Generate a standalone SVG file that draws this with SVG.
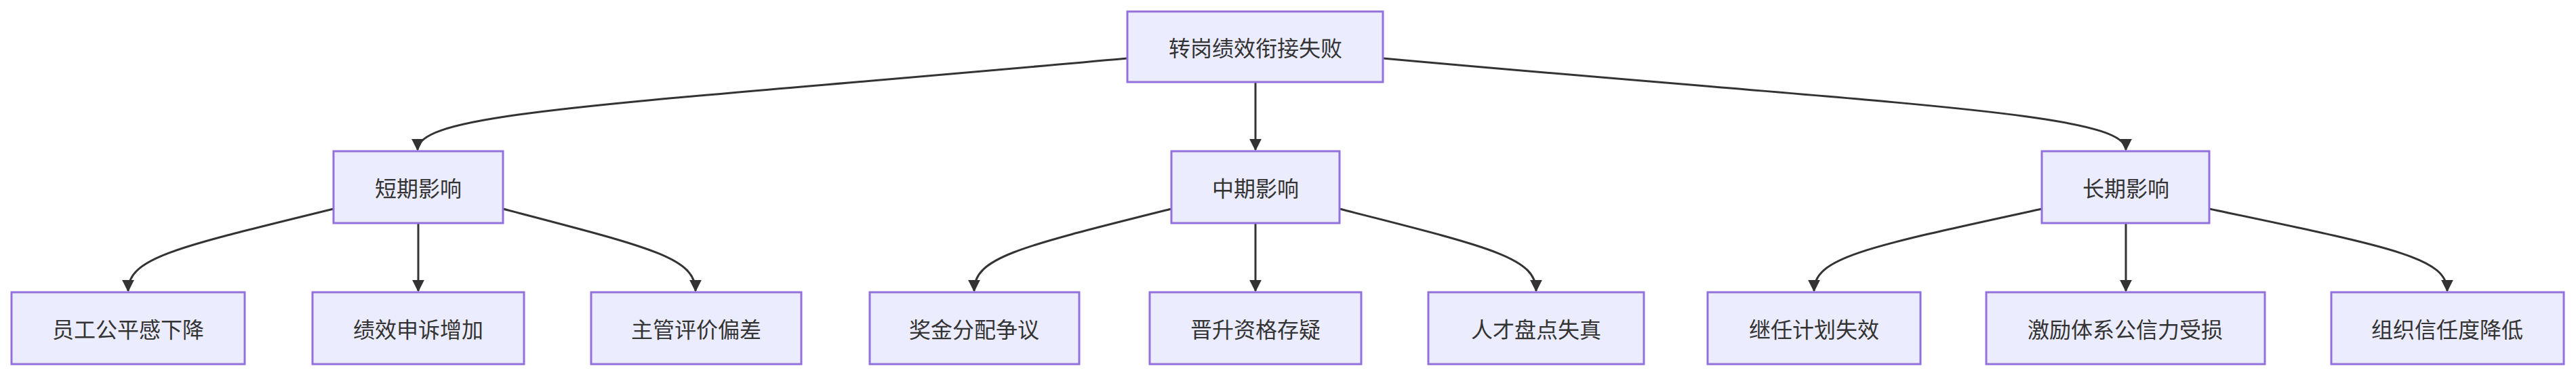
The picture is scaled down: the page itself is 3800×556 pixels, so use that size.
<svg xmlns="http://www.w3.org/2000/svg" width="3800" height="556" viewBox="0 0 3800 556">
<style>
.n rect{fill:#ECECFF;stroke:#9370DB;stroke-width:3}
.n text{font-family:"Noto Sans CJK SC","Liberation Sans",sans-serif;font-size:32px;fill:#333;text-anchor:middle;dominant-baseline:central}
.e path{fill:none;stroke:#333;stroke-width:3}
</style>
<defs><marker id="a" viewBox="0 0 10 10" refX="9" refY="5" markerWidth="6" markerHeight="6" orient="auto" markerUnits="strokeWidth"><path d="M0,0L10,5L0,10z" fill="#333"/></marker></defs>
<rect width="3800" height="556" fill="#fff"/>
<g class="e">
<path d="M1663,86 C900,155 616,165 616,221" marker-end="url(#a)"/>
<path d="M1852,121 L1852,221" marker-end="url(#a)"/>
<path d="M2040,86 C2800,155 3136,165 3136,221" marker-end="url(#a)"/>
<path d="M492,308 C260,365 189,380 189,429" marker-end="url(#a)"/>
<path d="M617,329 L617,429" marker-end="url(#a)"/>
<path d="M742,308 C960,365 1026,380 1026,429" marker-end="url(#a)"/>
<path d="M1728,308 C1500,365 1437,380 1437,429" marker-end="url(#a)"/>
<path d="M1852,329 L1852,429" marker-end="url(#a)"/>
<path d="M1976,308 C2200,365 2266,380 2266,429" marker-end="url(#a)"/>
<path d="M3012,308 C2750,365 2676,380 2676,429" marker-end="url(#a)"/>
<path d="M3136,329 L3136,429" marker-end="url(#a)"/>
<path d="M3259,308 C3530,365 3610,380 3610,429" marker-end="url(#a)"/>
</g>
<g id="root" class="n"><rect x="1663" y="17" width="377" height="104"/><text x="1852" y="69">转岗绩效衔接失败</text></g>
<g id="short" class="n"><rect x="492" y="223" width="250" height="106"/><text x="617" y="276">短期影响</text></g>
<g id="mid" class="n"><rect x="1728" y="223" width="248" height="106"/><text x="1852" y="276">中期影响</text></g>
<g id="long" class="n"><rect x="3012" y="223" width="247" height="106"/><text x="3136" y="276">长期影响</text></g>
<g id="l1" class="n"><rect x="17" y="431" width="344" height="106"/><text x="189" y="484">员工公平感下降</text></g>
<g id="l2" class="n"><rect x="461" y="431" width="312" height="106"/><text x="617" y="484">绩效申诉增加</text></g>
<g id="l3" class="n"><rect x="872" y="431" width="310" height="106"/><text x="1027" y="484">主管评价偏差</text></g>
<g id="l4" class="n"><rect x="1283" y="431" width="309" height="106"/><text x="1437" y="484">奖金分配争议</text></g>
<g id="l5" class="n"><rect x="1696" y="431" width="312" height="106"/><text x="1852" y="484">晋升资格存疑</text></g>
<g id="l6" class="n"><rect x="2107" y="431" width="318" height="106"/><text x="2266" y="484">人才盘点失真</text></g>
<g id="l7" class="n"><rect x="2519" y="431" width="314" height="106"/><text x="2676" y="484">继任计划失效</text></g>
<g id="l8" class="n"><rect x="2930" y="431" width="411" height="106"/><text x="3135" y="484">激励体系公信力受损</text></g>
<g id="l9" class="n"><rect x="3439" y="431" width="343" height="106"/><text x="3610" y="484">组织信任度降低</text></g>
</svg>
